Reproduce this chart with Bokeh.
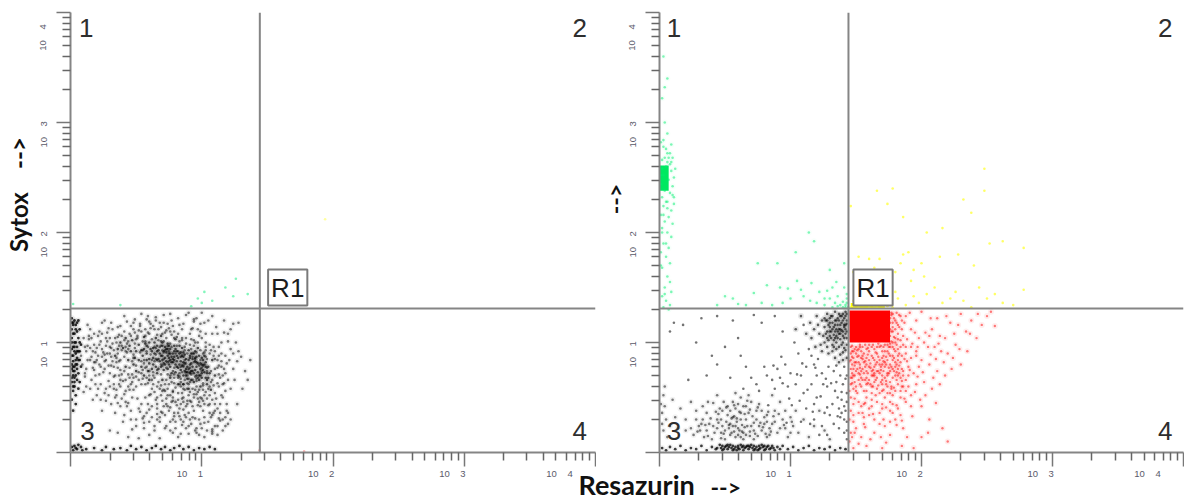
from bokeh.plotting import figure
from bokeh.models import Label, Span, FixedTicker
from bokeh.layouts import row, column
from bokeh.embed import file_html
from bokeh.resources import INLINE

# in hundredths of a decade (100 -> 10^1, 250 -> 10^2.5).
TICK_VALUES = [1, 10, 100, 1000, 10000]
MINOR_VALUES = [m * t for t in TICK_VALUES[:-1] for m in range(2, 10)]
GAP = "\u00a0" * 4
PAD = "\u00a0" * 9
TICK_LABELS = ["", "10" + GAP + "1" + PAD, "10" + GAP + "2" + PAD, "10" + GAP + "3" + PAD, "10" + GAP + "4" + PAD]
GATE_X, GATE_Y = 27.7, 20.4

L_BLACK_CORE = [40,95,34,88,47,102,50,92,52,84,45,97,56,105,58,90,60,81,61,94,64,100,63,86,65,78,66,92,69,106,68,83,
 72,96,70,88,71,75,74,99,73,91,75,80,78,85,76,94,77,72,80,103,79,87,82,77,81,92,84,83,83,97,86,70,85,88,88,76,87,81,90,93,
 89,67,93,85,91,72,92,90,96,78,94,64,95,83,98,70,97,95,101,75,99,60,100,80,103,68,102,88,106,72,104,62,105,78,108,84,
 107,57,110,70,55,88,59,74,62,92,67,85,70,97,73,83,76,78,79,92,82,70,85,95,88,85,91,80,94,90,97,73,100,86,103,78,
 57,99,63,95,68,90,72,86,75,90,78,82,81,88,84,75,87,89,90,76,93,74,96,87,99,81,102,73,105,68,60,85,66,97,71,81,74,94,
 77,87,80,80,83,90,86,82,89,73,92,81,95,75,98,88,101,84,104,72,54,93,49,86,64,90,69,78,74,76,79,97,84,91,88,70,
 92,66,96,82,100,72,58,97,63,80,67,76,71,92,76,84,81,83,86,91,91,86,95,92,99,70,103,82,65,104,70,100,75,97,80,73,
 66,84,69,88,72,80,75,86,78,90,81,78,84,87,87,74,90,84,93,78,96,70,99,76,102,80,73,94,76,90,79,84,82,86,85,79,88,73,
 91,88,94,72,97,81,100,68,67,93,70,84,74,88,77,82,80,94,83,80,86,87,89,78,92,74,95,86,98,66,101,79,104,66,42,104,46,92,
 38,100,52,98,56,94,60,100,36,94,44,84,48,80,54,78,58,84,62,76,42,78,50,74,56,70,60,66,66,72,70,66,76,68,82,62,86,62,90,58]
L_BLACK_WIDE = [8,88,10,104,12,76,13,116,15,95,16,66,18,108,20,84,21,58,22,98,24,118,25,73,27,104,28,90,29,52,31,79,
 32,112,33,62,35,100,36,45,38,84,39,71,41,110,42,56,43,119,45,77,46,38,48,68,49,109,51,49,53,115,54,72,55,31,57,62,
 58,121,60,52,61,113,62,42,64,68,65,120,66,30,68,58,69,114,70,47,72,22,73,66,74,117,75,38,76,126,78,55,79,110,80,28,
 81,43,82,122,83,62,84,17,85,112,86,50,87,34,88,125,89,58,90,24,91,108,92,46,93,66,94,119,95,31,96,53,97,112,98,16,
 99,42,100,127,101,61,102,27,103,108,104,49,105,120,106,36,107,64,108,21,109,96,110,54,111,114,112,40,113,79,114,29,
 115,90,116,62,117,109,118,72,119,44,120,101,121,84,122,58,124,76,125,66,126,100,128,92,130,87,133,74,135,66,137,84,
 19,70,23,62,27,47,31,118,34,36,37,70,40,28,44,60,47,50,50,69,52,40,56,22,59,44,62,58,66,50,69,37,72,56,75,62,
 77,46,79,36,82,54,84,44,86,62,89,44,91,55,93,32,96,60,99,50,101,38,103,55,105,28,108,48,110,38,113,60,115,52,
 26,120,30,104,36,114,41,124,48,118,54,126,59,124,64,112,71,125,77,120,83,116,90,127,96,122,102,118,108,124,112,108,
 117,120,122,112,128,118,92,112,98,106,103,100,108,108,113,96,118,88,12,60,17,48,24,38,30,20,36,18,44,14,52,13,
 60,16,68,13,76,20,82,14,90,17,96,22,102,14,108,17,112,24,116,30,120,36,
 12,92,15,84,18,98,21,88,24,94,27,84,30,96,33,78,36,90,39,106,42,96,45,108,48,112,51,104,54,110,57,112,60,108,63,115,
 67,112,70,108,73,104,76,110,79,104,82,108,85,102,88,104,91,98,94,102,97,100,100,104,103,96,106,98,109,88,112,84,115,78,
 110,76,114,68,117,76,120,66,118,56,114,44,110,44,106,52,102,52,98,46,94,50,90,52,86,46,82,48,78,50,74,52,70,56,66,60,
 62,66,58,68,54,62,50,60,46,62,42,66,38,60,34,70,30,72,26,76,22,80,18,82,34,50,38,42,42,46,46,30,50,30,54,44,58,36,
 62,32,66,40,70,36,74,42,78,30,82,36,86,28,90,36,94,38,98,30,102,32,106,44,110,24,114,36,118,32,122,30,60,28,64,24,68,28,
 72,34,76,28,80,22,84,30,88,22,92,26,96,18,100,22,104,20,108,34,112,16,116,20]
L_BLACK_EXTRA = [23,101,71,57,44,71,97,43,15,112,62,103,88,99,33,93,79,63,54,83,107,93,29,65,68,118,41,53,93,113,17,77,76,41,
 59,109,101,57,37,107,84,67,11,69,49,95,113,71,26,83,66,44,90,62,53,117,35,57,73,111,19,91,47,64,99,93,64,55,86,39,
 31,87,109,61,57,77,77,107,41,87,95,57,13,97,69,61,52,73,104,85,28,109,83,101,38,75,91,47,61,117,73,49,46,115,115,83,
 22,71,55,101,80,59,34,104,100,49,64,83,44,101,87,93,25,91,111,49,59,63,75,113,40,65,96,65,70,79,50,79,105,43,32,83,
 85,54,63,73,16,104,78,47,45,57,92,103,56,84,108,66,36,77,68,96,83,33,27,97,117,63,61,53,99,110,39,97,74,58,52,111,
 89,63,21,106,66,75,102,91,48,89,81,105,30,60,94,53,57,106,112,77,43,99,72,109,87,57,35,82,106,60,60,70,77,64,47,71,
 94,97,24,87,65,89,83,72,38,66,98,57,55,75,71,101,90,67,19,82,51,106,104,77,67,64,79,68,42,92,86,78,30,90,101,63,
 58,92,74,71,96,91,36,105,62,84,84,60,49,99,107,74,72,93,92,71,55,67,81,97,98,79,65,95,87,66,76,99,103,87,69,71,
 88,81,78,74,94,82,71,85,85,73,99,84,82,68,91,77,75,92,97,68,89,90,73,77,93,87,84,78,80,90,100,77,95,69,70,93]
L_BLACK_MORE = [14,103,37,97,26,89,53,91,18,75,32,99,47,83,61,89,41,102,29,79,20,95,35,86,57,101,24,108,43,91,50,103,66,107,
 59,96,39,93,28,101,16,87,46,106,55,93,33,69,64,96,23,78,69,101,41,74,52,66,37,62,60,74,27,58,48,57,63,62,72,62,35,52,
 44,45,57,50,69,52,78,56,85,49,97,55,105,58,112,63,89,47,76,52,65,48,53,37,41,34,60,39,71,42,83,40,93,42,102,44,116,50,
 109,36,119,38,91,30,79,33,68,32,56,27,47,21,73,24,85,25,99,26,108,19,120,26,127,44,131,58,124,90,127,83,122,94,119,81,
 116,70,113,88,110,92,115,100,120,108,124,117,99,117,94,121,86,117,78,115,65,123,71,118,60,119,49,121,38,115,29,113,
 22,110,14,106,11,96,9,80,13,84,17,92,11,72,15,58,20,52,10,55,93,58,97,49,88,42,80,46,73,44,66,35,56,33,101,47,107,32,
 113,31,118,24,95,20,88,32,78,18,64,20,50,24,43,42,31,44,26,54,23,48,19,62,33,58,39,49,45,68,86,58,74,82,87,96,95,100,
 69,97,56,81,63,70,101,90,77,96,85,104,92,94,106,90,103,93,110,85,48,86,44,94,37,83,31,95,67,102,58,78,79,77,84,64,
 74,97,91,73,87,84,83,69,93,90,100,74,96,67,89,70,75,83,79,71,71,91,65,85,86,79,82,92,95,85,69,80,76,70,91,64,104,74]
L_BLACK_COLUMN = [1,122,2,116,3,108,1,104,4,100,2,96,3,92,1,88,5,86,2,83,4,80,1,76,3,74,2,70,5,66,1,64,3,60,2,56,4,52,1,48,
 6,120,7,112,6,104,8,98,6,92,7,84,8,78,6,72,7,64,5,110,5,96,4,116,1,112,2,108,3,100,4,90,2,78,3,68,1,94,6,58,4,44,2,38,
 2,118,4,112,1,100,3,96,5,92,2,88,4,84,1,80,3,78,5,76,2,74,4,70,1,68,3,64,2,60,1,118,3,120,5,118,7,100,7,92,6,84,5,80,
 1,5,3,6,5,3,2,2,8,5,6,7,9,2,4,4,12,3,18,4,24,2,27,5,33,3,38,4,43,2,46,6,50,3,54,5,58,2,62,4,65,6,69,3,72,5,76,2,
 79,4,83,6,86,3,90,5,94,2,98,4,102,3,106,5,110,3]
L_GREEN = [2,135,38,134,97,140,102,146,108,138,118,150,124,142,126,158,100,136,92,133,135,144]
L_YELLOW = [194,212]
L_RED = [178,1,144,2]

R_BLACK_TOP = [142,128,138,124,134,128,130,122,140,120,136,116,132,118,128,126,126,114,142,112,138,108,134,110,130,106,
 126,100,143,104,140,100,137,96,133,102,141,95,128,110,124,120,122,108,120,124,118,112,116,104,143,126,141,122,139,118,
 137,112,135,106,133,114,131,110,129,116,127,120,125,106,123,98,121,116,143,117,142,108,141,114,140,106,139,111,138,103,
 137,120,136,110,135,100,134,116,133,107,132,98,131,124,130,114,129,102,128,96,127,108,126,122,143,98,142,93,140,91,
 138,89,135,94,132,92,143,86,140,84,137,82,134,86,129,90,124,92,119,96,115,118,112,108,108,124,104,112,
 142,124,140,126,138,116,136,122,134,120,132,124,130,118,128,120,142,116,140,110,138,112,136,104,134,104,132,112,
 130,110,128,104,143,110,141,104,139,98,137,108,135,112,133,96,131,104,143,120,141,116,139,124,137,126,135,120]
R_BLACK_SCATTER = [8,110,11,118,18,116,32,122,44,124,56,120,60,104,72,125,78,118,88,124,94,110,103,100,110,116,114,94,
 118,80,124,72,128,60,133,74,136,50,140,62,143,70,141,42,138,32,143,28,132,44,126,36,120,50,116,62,108,70,100,72,
 96,80,90,76,86,66,82,70,88,58,76,56,70,68,62,88,50,96,40,88,36,70,28,100,22,66,141,78,138,70,135,64,143,54,139,48,
 142,38,137,22,141,18,143,12,133,26,128,16,124,24,118,30,112,40,108,28,106,90,112,78,116,88,120,70,125,62,129,78,
 134,56,137,40,141,30,143,46,143,20,130,34,122,16,118,44,110,54,104,62,98,60,92,68,80,78,66,78,54,68,44,80,
 127,67,113,57,99,49,121,85,83,43,139,55,105,71,93,87,117,37,131,63,101,43,142,67,87,79,136,33,109,81,123,51,
 74,62,64,58,97,27,115,26,139,36,128,41,135,79,119,77,94,63,107,47]
R_BLACK_LOW = [60,22,55,18,62,30,48,24,66,16,70,24,52,34,58,40,64,12,44,30,74,30,78,20,42,18,50,12,68,36,72,12,38,26,36,36,
 82,14,86,26,34,14,46,40,56,46,62,50,30,24,28,38,26,16,76,44,82,34,90,18,94,30,98,14,102,24,104,38,92,46,86,52,24,46,
 20,30,16,40,14,22,12,32,10,48,8,24,5,30,4,42,3,52,2,36,3,20,6,14,2,26,4,60,1,44,
 54,26,57,33,60,16,63,25,47,18,51,28,66,30,69,19,72,27,45,35,41,24,58,14,54,38,75,15,80,26,84,22,88,38,96,22,100,32,
 106,18,110,30,114,14,118,24,122,38,126,20,130,12,49,46,44,52,37,46,33,30,31,20,40,12,64,42,70,46,78,38,68,52,58,54,
 56,24,59,28,61,20,64,18,50,20,53,22,67,24,47,30,44,22,56,32,62,36,72,20,76,24,80,32,84,16,88,28,92,22,36,20,32,26,
 48,38,52,42,60,44,66,42,74,38,82,28,28,30,24,22,20,20,96,38,100,18,58,24,54,16,62,14,
 43,37,57,19,71,33,39,31,65,23,77,27,51,41,83,37,35,25,69,15,61,37,47,13,91,35,73,17,55,31,29,19,85,19,41,45,67,47,
 79,23,33,42,59,31,49,17,75,41,63,19,87,33,53,25,95,25,45,27,69,39,57,43,81,17,37,15,101,28,65,35]
R_BLACK_BOTTOM = [2,4,5,2,8,5,12,3,16,6,20,2,24,4,28,3,32,6,36,2,40,5,43,3,46,7,48,2,50,5,52,3,54,7,56,2,58,5,60,4,62,7,64,2,
 66,5,68,3,70,7,72,2,74,5,76,3,78,7,80,2,82,5,84,3,86,6,88,2,90,5,92,3,94,6,98,3,102,5,106,2,110,4,114,6,118,2,122,4,
 126,3,130,5,134,2,138,4,142,3,47,4,51,6,55,4,59,2,63,5,67,6,71,4,75,2,79,5,83,6,87,4,
 44,4,49,3,53,5,57,3,61,3,65,4,69,5,73,3,77,4,81,3,85,4,48,6,52,7,56,6,60,6,64,6,68,6,72,6,76,6,80,6]
R_RED = [146,96,150,90,155,96,160,92,166,96,172,92,178,100,146,84,152,82,158,86,164,84,170,86,176,88,182,94,188,90,148,76,
 154,74,160,78,166,74,172,78,178,76,184,82,190,78,146,68,152,66,158,68,164,64,170,70,176,64,182,70,188,66,194,72,
 148,58,156,56,162,60,168,54,174,60,180,56,186,60,192,52,146,50,152,46,158,50,166,46,172,50,178,44,184,50,146,38,152,36,
 160,40,168,36,176,38,184,34,192,42,148,28,156,26,164,30,172,24,180,30,146,18,154,14,164,18,176,16,186,22,148,4,158,6,
 170,4,185,6,194,4,200,14,178,110,182,116,186,106,188,124,192,112,196,120,198,104,200,128,205,96,208,112,212,122,215,92,
 218,104,222,118,226,98,230,126,234,110,238,120,242,104,246,116,250,124,256,115,196,92,200,84,206,80,212,74,218,70,
 224,86,230,80,202,64,208,58,214,62,200,42,206,30,216,22,220,10,152,112,158,108,176,118,180,104,184,124,174,104,
 147,92,153,98,149,70,162,70,168,80,174,72,180,82,186,74,192,86,198,78,150,60,158,62,164,72,170,62,176,54,182,62,
 188,56,196,62,145,56,151,54,156,44,162,48,170,40,176,46,182,40,188,46,145,30,150,22,160,34,168,26,176,28,145,10,152,8,
 178,126,180,120,178,114,182,108,180,100,178,96,176,106,176,112,176,122,184,102,184,96,182,88,180,92,176,96,174,92,
 172,98,170,92,168,96,166,90,164,94,162,96,160,98,158,94,156,90,154,92,152,94,150,96,148,92,146,90,148,86,150,82,
 152,88,154,86,156,82,158,80,160,84,162,88,164,78,166,82,168,84,170,80,172,82,174,84,176,80,178,84,180,78,182,76,
 146,76,148,70,150,74,152,72,154,68,156,72,158,74,160,66,162,74,164,70,166,68,168,72,170,66,172,68,174,70,176,74,
 178,68,180,70,184,68,186,70,190,70,146,62,150,56,154,60,158,56,162,54,166,58,170,56,174,54,178,52,184,56,
 190,60,148,44,154,42,162,42,170,44,178,36,148,34,156,32,192,96,196,88,202,100,206,106,210,96,214,106,220,90]
R_RED_EXTRA = [177,127,179,122,181,118,177,110,183,125,179,105,181,98,185,112,177,101,175,96,183,90,179,86,173,87,169,97,
 165,91,159,95,155,88,151,93,147,87,149,79,157,83,163,75,171,83,175,77,181,73,187,85,153,71,147,63,159,63,167,61,173,65,
 179,59,185,65,191,75,193,99,189,103,195,109,187,118,191,127,203,109,197,96,207,89,213,99,201,73,209,68,195,55,187,49,
 181,43,173,41,165,52,157,45,149,49,155,36,163,35,171,30,185,29,199,48,211,45,149,18,157,23,169,14,181,25,193,33,
 161,12,173,9,147,14,189,14,205,18,223,76,229,94,237,108,225,108,219,124,207,122,243,126,211,85,217,82,235,92,
 253,128,228,116,197,69,203,52,177,60,169,75,161,81,153,77,147,72,145,83,155,66,163,60,171,57,183,79,189,83,
 177,125,180,112,182,103,178,118,185,120,186,98,183,114,181,127,179,94,176,99,174,98,171,96,167,99,163,98,157,98,
 153,96,149,94,147,97,151,87,155,85,159,89,163,86,167,87,171,88,175,90,178,88,182,84,185,88,188,96,149,82,153,80,
 157,78,161,77,165,80,169,78,173,80,177,78,181,80,185,76,147,80,151,76,155,76,159,72,163,70,167,74,171,74,175,72,
 179,74,183,72,147,68,149,64,153,62,157,66,161,62,165,66,169,64,173,62,177,58,181,66,185,60]
R_GREEN = [2,322,4,300,6,290,3,278,8,272,2,266,5,260,9,256,3,252,7,248,1,244,10,242,4,238,8,236,2,232,6,228,11,226,3,224,9,220,
 1,216,7,214,4,210,10,208,2,204,6,200,9,196,3,190,7,186,1,182,5,178,8,172,2,168,6,160,4,150,9,146,2,142,5,138,8,134,3,132,7,130,
 2,200,5,190,1,170,8,155,4,144,3,360,6,340,4,332,1,282,9,264,5,228,3,216,11,232,6,222,
 4,268,6,264,2,258,8,262,10,268,12,258,6,272,3,284,9,280,5,276,7,268,11,250,1,252,10,234,
 56,140,66,134,75,172,90,172,82,152,92,150,104,182,114,200,118,192,130,166,141,172,105,156,
 98,149,108,148,116,154,122,146,126,140,132,150,136,142,140,137,143,144,142,134,138,134,134,136,130,140,126,134,120,136,
 115,138,110,142,100,140,94,136,86,134,78,136,72,145,60,135,50,142,44,134,135,155,128,147,141,150,143,136,140,132,136,133,
 132,132,142,132,144,132,143,140]
R_YELLOW = [148,133,152,132,156,134,160,132,164,133,150,135,154,136,158,135,162,136,148,138,146,132,166,132,170,134,174,133,
 178,132,182,140,188,134,194,142,198,136,204,144,210,150,216,136,222,140,226,146,232,138,238,132,244,150,250,140,256,144,
 262,136,270,134,278,148,168,146,172,154,176,160,180,164,184,172,160,176,152,178,148,164,156,160,164,168,168,176,
 190,182,200,172,214,178,228,180,240,170,252,190,204,200,216,204,186,214,174,226,166,238,178,240,146,224,232,230,
 248,258,248,238,238,218,262,192,278,186,186,180,194,166,150,150,158,148,172,140,180,146,192,156,202,160]
R_RED_CORE = [145, 176, 100, 129]      # solid red region: x from, x to, y from, y to
R_GREEN_CORE = [0, 7, 238, 261]        # solid green region
R_YELLOW_CORE = [146, 172, 131, 136]   # solid yellow bar


def tens(values, offset=0):
    return [10 ** (v / 100) for v in values[offset::2]]


def fig(width, left, right):
    p = figure(width=width, height=481, x_axis_type="log", y_axis_type="log",
               x_range=(1, 10000), y_range=(1, 10000), output_backend="svg",
               toolbar_location=None, min_border_left=left, min_border_right=right,
               min_border_top=12, min_border_bottom=29, background_fill_color="white",
               border_fill_color=None, outline_line_color=None)
    p.grid.visible = False
    overrides = dict(zip(TICK_VALUES, TICK_LABELS))
    for ax, orient in ((p.xaxis[0], "horizontal"), (p.yaxis[0], "vertical")):
        ax.ticker = FixedTicker(ticks=TICK_VALUES, minor_ticks=MINOR_VALUES)
        ax.major_label_overrides = overrides
        ax.major_label_orientation = orient
        ax.major_label_text_font = "Liberation Sans"
        ax.major_label_text_font_size = "9.5px"
        ax.major_label_text_color = "#5a5a6a"
        ax.axis_line_color = "#858585"
        ax.axis_line_width = 2
        ax.major_tick_line_color = "#777777"
        ax.major_tick_line_width = 1.5
        ax.minor_tick_line_color = "#666666"
        ax.minor_tick_line_width = 1.5
        ax.major_tick_out = 14
        ax.major_tick_in = 0
        ax.minor_tick_out = 8
        ax.minor_tick_in = 0
    p.xaxis[0].major_label_standoff = 1
    p.yaxis[0].major_label_standoff = 8
    return p


def dots(p, vals, color, alpha=0.55, size=2.6, halo=0.06):
    xs, ys = tens(vals), tens(vals, 1)
    if halo:
        p.scatter(xs, ys, size=6, color=color, alpha=halo, line_width=0)
    p.scatter(xs, ys, size=size, color=color, alpha=alpha, line_width=0)


def core(p, vals, color):
    p.quad(left=[10 ** (vals[0] / 100)], right=[10 ** (vals[1] / 100)],
           bottom=[10 ** (vals[2] / 100)], top=[10 ** (vals[3] / 100)], color=color, line_width=0)


def annotate(p, labels, r1x):
    for s, xd, yd in labels:
        p.add_layout(Label(x=10 ** xd, y=10 ** yd, text=s, text_font="Liberation Sans", text_font_size="26px",
                           text_color="#2e2e2e", text_align="center", text_baseline="middle"))
    p.add_layout(Span(location=GATE_X, dimension="height", line_color="#858585", line_width=2))
    p.add_layout(Span(location=GATE_Y, dimension="width", line_color="#858585", line_width=2))
    p.add_layout(Label(x=10 ** r1x, y=10 ** 1.5, text="R1", text_font="Liberation Sans", text_font_size="26px",
                       text_color="#1c1c1c", text_align="center", text_baseline="middle",
                       background_fill_color="white", border_line_color="#7a7a7a", border_line_width=2,
                       padding=3))


def side_label(p, text, size, standoff):
    ax = p.yaxis[0]
    ax.axis_label = text
    ax.axis_label_text_font = "Lato"
    ax.axis_label_text_font_style = "bold"
    ax.axis_label_text_font_size = size
    ax.axis_label_text_color = "#111111"
    ax.axis_label_standoff = standoff


p1 = fig(596, 70, 1)
dots(p1, L_BLACK_WIDE, "black", .5, halo=.05)
dots(p1, L_BLACK_EXTRA, "black", .5, halo=.06)
dots(p1, L_BLACK_MORE, "black", .5, halo=.06)
dots(p1, L_BLACK_CORE, "black", .65, halo=.12)
dots(p1, L_BLACK_COLUMN, "black", .8, 2.8, halo=.08)
dots(p1, L_GREEN, "#30f090", .6, halo=0)
dots(p1, L_YELLOW, "#ffff60", .6, halo=0)
dots(p1, L_RED, "#ff5050", .4, halo=0)
annotate(p1, [("1", .12, 3.86), ("2", 3.88, 3.86), ("3", .13, .2), ("4", 3.88, .2)], 1.655)
side_label(p1, "\u00a0" * 13 + "Sytox\u00a0\u00a0\u00a0\u00a0-->", "24px", 2)

p2 = fig(588, 63, 1)
core(p2, R_RED_CORE, "#ff0000")
core(p2, R_GREEN_CORE, "#00e860")
core(p2, R_YELLOW_CORE, "#ffff00")
dots(p2, R_BLACK_TOP, "black", .6, halo=.1)
dots(p2, R_BLACK_SCATTER, "black", .55, halo=0)
dots(p2, R_BLACK_LOW, "black", .5, halo=.05)
dots(p2, R_BLACK_BOTTOM, "black", .75, 2.8, halo=.05)
dots(p2, R_RED, "#ff0000", .5, 2.4, halo=.07)
dots(p2, R_RED_EXTRA, "#ff0000", .5, 2.4, halo=.07)
dots(p2, R_GREEN, "#00f070", .5, halo=.03)
dots(p2, R_YELLOW, "#ffff30", .75, halo=0)
annotate(p2, [("1", .11, 3.86), ("2", 3.86, 3.86), ("3", .11, .2), ("4", 3.86, .2)], 1.63)
side_label(p2, "\u00a0" * 12 + "-->", "23px", -5)

cap = figure(width=1184, height=34, x_range=(0, 1184), y_range=(34, 0), output_backend="svg",
             toolbar_location=None, min_border=0, outline_line_color=None, border_fill_color=None,
             background_fill_color=None, margin=(-15, 0, 0, 0))
cap.axis.visible = False
cap.grid.visible = False
cap.add_layout(Label(x=578, y=18, text="Resazurin", text_font="Lato", text_font_style="bold", text_font_size="27px",
                     text_color="#111111", text_align="left", text_baseline="middle"))
cap.add_layout(Label(x=710, y=20, text="-->", text_font="Lato", text_font_style="bold", text_font_size="23px",
                     text_color="#111111", text_align="left", text_baseline="middle"))

open("out.html", "w").write(file_html(column(row(p1, p2), cap), INLINE))
